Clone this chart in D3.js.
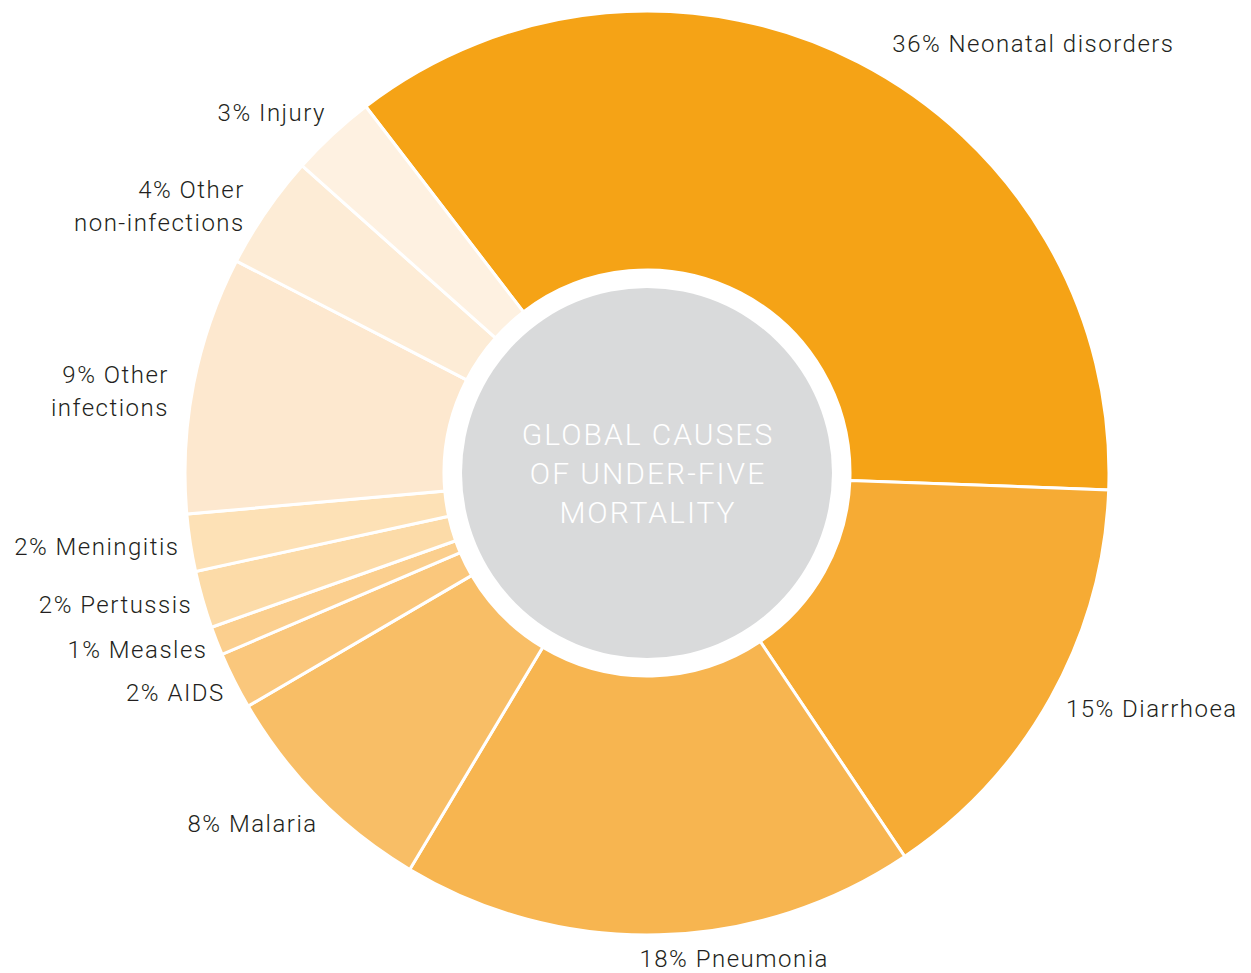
<!DOCTYPE html>
<html>
<head>
<meta charset="utf-8">
<style>
  body { margin: 0; background: #fff; }
  text { font-family: Roboto, "Open Sans", sans-serif; font-weight: 300; }
</style>
</head>
<body>
<div id="chart"></div>
<script src="https://d3js.org/d3.v7.min.js"></script>
<script>

  // causes, clockwise from the top-left edge of neonatal disorders
  const causes = ["Neonatal disorders", "Diarrhoea", "Pneumonia", "Malaria", "AIDS",
    "Measles", "Pertussis", "Meningitis", "Other infections", "Other non-infections", "Injury"];
  const shares = [36, 15, 18, 8, 2, 1, 2, 2, 9, 4, 3];
  const labelLines = [
    ["36% Neonatal disorders"], ["15% Diarrhoea"], ["18% Pneumonia"], ["8% Malaria"],
    ["2% AIDS"], ["1% Measles"], ["2% Pertussis"], ["2% Meningitis"],
    ["9% Other", "infections"], ["4% Other", "non-infections"], ["3% Injury"]
  ];
  const colours = ["#f5a316", "#f6ab34", "#f7b550", "#f8be66", "#fac77c", "#fbcf8e",
    "#fcdba8", "#fde1b6", "#fde8cf", "#fdecd6", "#fef1e1"];
  const centreTitle = ["GLOBAL CAUSES", "OF UNDER-FIVE", "MORTALITY"];

  const width = 1251, height = 973;
  const cx = 647, cy = 473;
  const outerR = 462, innerR = 203, discR = 185, labelR = 476;

  const data = causes.map((c, i) => ({ cause: c, share: shares[i], lines: labelLines[i], colour: colours[i] }));

  const svg = d3.select("#chart").append("svg")
    .attr("width", width)
    .attr("height", height);

  const g = svg.append("g").attr("transform", `translate(${cx},${cy})`);

  const pie = d3.pie()
    .value(d => d.share)
    .sort(null)
    .startAngle(-37.5 * Math.PI / 180)
    .endAngle((360 - 37.5) * Math.PI / 180);

  const arc = d3.arc().innerRadius(innerR).outerRadius(outerR);
  const arcs = pie(data);

  g.append("g")
    .selectAll("path")
    .data(arcs)
    .enter().append("path")
    .attr("d", arc)
    .attr("fill", d => d.data.colour)
    .attr("stroke", "#fff")
    .attr("stroke-width", 3)
    .attr("stroke-linejoin", "miter");

  g.append("circle")
    .attr("r", discR)
    .attr("fill", "#d9dadb");

  g.append("text")
    .attr("text-anchor", "middle")
    .attr("fill", "#fff")
    .attr("font-size", 30)
    .attr("letter-spacing", 2)
    .selectAll("tspan")
    .data(centreTitle)
    .enter().append("tspan")
    .attr("x", 1)
    .attr("y", (d, i) => (i - 1) * 39 + 11)
    .text(d => d);

  // small hand nudges so labels sit like in the original
  const nudge = {
    "Neonatal disorders": [27, -6],
    "Diarrhoea": [3, 4],
    "Pneumonia": [-20, 10],
    "Malaria": [9, 16],
    "AIDS": [3, 6],
    "Measles": [4, 4],
    "Pertussis": [3, 1],
    "Meningitis": [3, 2],
    "Other infections": [-11, 10],
    "Other non-infections": [-10, 3],
    "Injury": [3, -12]
  };

  const labels = g.append("g")
    .attr("font-size", 24)
    .attr("fill", "#231f20")
    .attr("letter-spacing", 1.5);

  arcs.forEach(d => {
    const a = (d.startAngle + d.endAngle) / 2;
    const off = nudge[d.data.cause] || [0, 0];
    const x = Math.sin(a) * labelR + off[0];
    const y = -Math.cos(a) * labelR + off[1];
    const anchor = Math.sin(a) < -0.05 ? "end" : "start";
    const n = d.data.lines.length;
    const t = labels.append("text")
      .attr("text-anchor", anchor);
    d.data.lines.forEach((line, i) => {
      t.append("tspan")
        .attr("x", x)
        .attr("y", y + (i - (n - 1) / 2) * 33)
        .attr("dy", "0.35em")
        .text(line);
    });
  });

</script>
</body>
</html>
